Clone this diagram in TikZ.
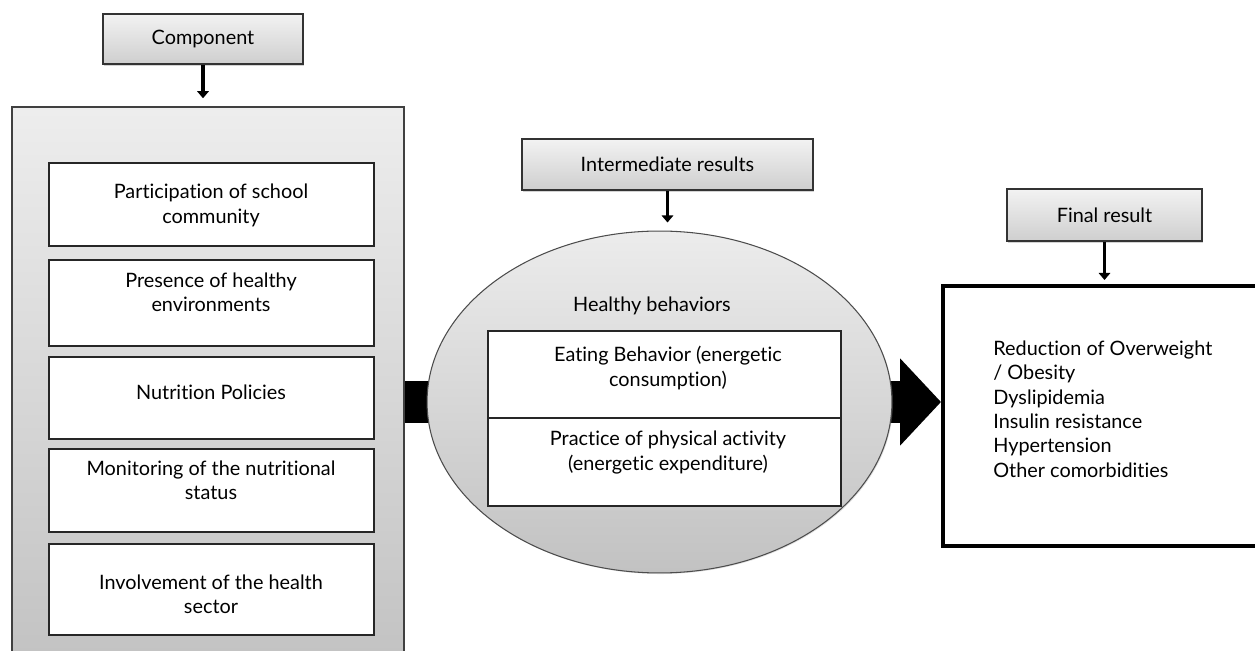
\documentclass[tikz,border=0pt]{standalone}
\usepackage{fontspec}
\setmainfont[Ligatures=NoCommon]{Lato}
\usetikzlibrary{arrows.meta,shadows,shapes.geometric,backgrounds}

\tikzset{
    header/.style={draw=black!80, line width=1pt, top color=gray!10, middle color=gray!18, bottom color=gray!38,
        drop shadow={opacity=0.35, shadow xshift=0.7pt, shadow yshift=-0.9pt}},
    item/.style={draw=black!85, line width=1pt, fill=white},
    txt/.style={align=center, inner sep=0pt},
    link/.style={line width=2.2pt, -{Triangle[length=4pt, width=6.5pt]}},
    fat/.style={line width=0.86cm},
}

\begin{document}
\begin{tikzpicture}[x=0.02cm, y=-0.02cm, font=\fontsize{11.3}{13.9}\selectfont]
    \useasboundingbox (0,0) rectangle (1255,651);
    \clip (0,0) rectangle (1255,651);

    % component
    \node[header, minimum width=4cm, minimum height=1cm] (comp) at (203,39) {Component};
    \node[draw=black!75, line width=0.9pt, top color=gray!14, bottom color=gray!48,
        minimum width=7.84cm, minimum height=11.26cm] (panel) at (208,388.5) {};

    \node[item, minimum width=6.5cm, minimum height=1.66cm] (particip) at (211.5,204.5) {};
    \node[item, minimum width=6.5cm, minimum height=1.72cm] (envir)    at (211.5,303) {};
    \node[item, minimum width=6.5cm, minimum height=1.64cm] (policy)   at (211.5,398) {};
    \node[item, minimum width=6.5cm, minimum height=1.66cm] (monitor)  at (211.5,490.5) {};
    \node[item, minimum width=6.5cm, minimum height=1.82cm] (involve)  at (211.5,589.5) {};

    \node[txt] (particip-t) at (211,205.5) {Participation of school\\community};
    \node[txt] (envir-t)    at (211,292.5) {Presence of healthy\\environments};
    \node[txt] (policy-t)   at (211,392)   {Nutrition Policies};
    \node[txt] (monitor-t)  at (211,480.5) {Monitoring of the nutritional\\status};
    \node[txt] (involve-t)  at (211,594.5) {Involvement of the health\\sector};

    % intermediate results
    \node[header, minimum width=5.82cm, minimum height=1.02cm] (inter) at (667.5,164.5) {Intermediate results};
    \node[ellipse, draw=black!70, line width=0.6pt, inner sep=0pt, top color=gray!15, bottom color=gray!48,
        minimum width=9.3cm, minimum height=6.84cm,
        drop shadow={opacity=0.25, shadow xshift=0.6pt, shadow yshift=-0.6pt}] (ell) at (659.5,402) {};
    \node[txt] (healthy) at (652,306) {Healthy behaviors};

    \node[item, minimum width=7.06cm, minimum height=1.74cm] (eating)   at (664.5,374.5) {};
    \node[item, minimum width=7.06cm, minimum height=1.76cm] (practice) at (664.5,462) {};
    \node[txt] (eating-t)   at (668,368)   {Eating Behavior (energetic\\consumption)};
    \node[txt] (practice-t) at (668,452.5) {Practice of physical activity\\(energetic expenditure)};

    % final result
    \node[header, minimum width=3.9cm, minimum height=1.04cm] (final) at (1104.5,215) {Final result};
    \node[draw, line width=2.3pt, minimum width=6.64cm, minimum height=5.2cm] (rbox) at (1109,416) {};
    \node[txt, align=left, anchor=west] (outcome) at (993,409)
        {Reduction of Overweight\\/ Obesity\\Dyslipidemia\\Insulin resistance\\Hypertension\\Other comorbidities};

    \draw[link, shorten >=0.16cm] (comp.south) -- (comp.south |- panel.north);
    \draw[link, shorten >=0.16cm] (inter.south) -- (inter.south |- ell.north);
    \draw[link, shorten >=0.08cm] (final.south) -- (final.south |- rbox.north);

    \begin{scope}[on background layer]
        \draw[fat] (panel.east |- ell.center) -- (ell.center);
        \draw[fat, -{Triangle[length=0.82cm, width=1.7cm]}] (ell.center) -- (ell.center -| rbox.west);
    \end{scope}
\end{tikzpicture}
\end{document}
